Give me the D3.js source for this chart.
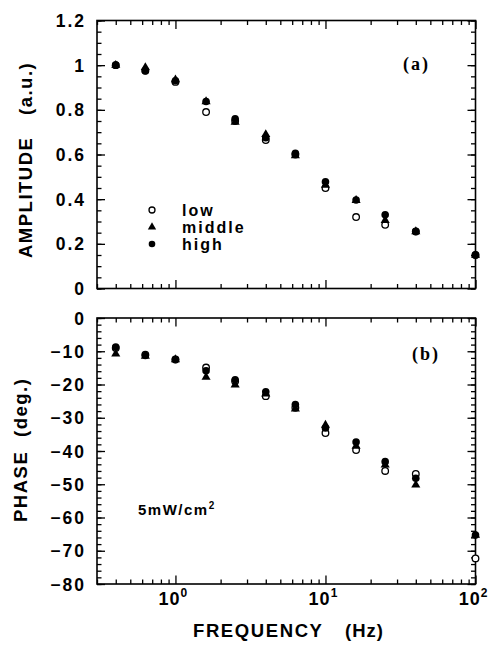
<!DOCTYPE html>
<html>
<head>
<meta charset="utf-8">
<script src="https://cdn.jsdelivr.net/npm/d3@7"></script>
<style>
  body { margin: 0; background: #fff; }
  text { font-family: "Liberation Sans", Arial, sans-serif; font-weight: bold; fill: #000; }
</style>
</head>
<body>
<div id="chart"></div>
<script>
// frequencies (Hz)
var freq = [0.4, 0.63, 1, 1.6, 2.5, 4, 6.3, 10, 16, 25, 40, 100];

// amplitude (a.u.)
var ampLow  = [1.0, 0.975, 0.925, 0.79, 0.75, 0.665, 0.6, 0.45, 0.32, 0.285, 0.255, 0.15];
var ampMid  = [1.0, 0.99, 0.935, 0.837, 0.745, 0.69, 0.595, 0.463, 0.395, 0.305, 0.255, 0.15];
var ampHigh = [1.0, 0.975, 0.93, 0.837, 0.76, 0.675, 0.605, 0.478, 0.396, 0.33, 0.255, 0.15];

// phase (deg.)
var phLow  = [-9, -11, -12.5, -14.9, -19, -23.5, -27, -34.6, -39.7, -46, -46.9, -72.3];
var phMid  = [-10.8, -11.5, -12.5, -17.8, -20.1, -22.8, -27.3, -32.2, -38.5, -44.2, -50.2, -65.3];
var phHigh = [-8.7, -11.3, -12.5, -15.9, -18.6, -22.2, -26, -33.1, -37.3, -43.2, -48.2, -65.3];

var ampTicks = [0, 0.2, 0.4, 0.6, 0.8, 1, 1.2];
var phTicks = [0, -10, -20, -30, -40, -50, -60, -70, -80];
var decades = [1, 10, 100];
var decadeExp = ["0", "1", "2"];
var legendNames = ["low", "middle", "high"];

var svgWidth = 492, svgHeight = 647;
var svg = d3.select("#chart").append("svg")
  .attr("width", svgWidth)
  .attr("height", svgHeight);

var left = 97, right = 475.5;
var x = d3.scaleLog().domain([0.3, 100]).range([left, right]);

var minorX = [];
[0.1, 1, 10].forEach(function(b) {
  for (var k = 2; k <= 9; k++) {
    var v = b * k;
    if (v >= 0.3 && v < 100) minorX.push(v);
  }
});

function minorSteps(lo, hi, step) {
  var out = [];
  var n = Math.round((hi - lo) / step);
  for (var i = 0; i <= n; i++) out.push(+(lo + i * step).toFixed(4));
  return out;
}

function drawPanel(top, bottom, y, majorY, minorY, yLabelFmt) {
  var g = svg.append("g");
  var w = right - left;

  // x ticks, bottom and top, pointing inward
  [[d3.axisBottom, bottom], [d3.axisTop, top]].forEach(function(a) {
    g.append("g").attr("transform", `translate(0,${a[1]})`)
      .call(a[0](x).tickValues(minorX).tickSize(-4.5).tickFormat(""));
    g.append("g").attr("transform", `translate(0,${a[1]})`)
      .call(a[0](x).tickValues(decades).tickSize(-8.5).tickFormat(""));
  });

  // y ticks, left and right
  [[d3.axisLeft, left], [d3.axisRight, right]].forEach(function(a) {
    g.append("g").attr("transform", `translate(${a[1]},0)`)
      .call(a[0](y).tickValues(minorY).tickSize(-4.5).tickFormat(""));
    g.append("g").attr("transform", `translate(${a[1]},0)`)
      .call(a[0](y).tickValues(majorY).tickSize(-8).tickFormat(""));
  });

  g.selectAll(".domain").remove();
  g.selectAll(".tick line").attr("stroke", "#000").attr("stroke-width", 1.3);

  g.append("rect")
    .attr("x", left).attr("y", top)
    .attr("width", w).attr("height", bottom - top)
    .attr("fill", "none").attr("stroke", "#000").attr("stroke-width", 1.6);

  // y tick labels
  g.selectAll(".ylab").data(majorY).enter().append("text")
    .attr("x", left - 11)
    .attr("y", d => y(d) + 6.5)
    .attr("text-anchor", "end")
    .style("font-size", "17.5px")
    .style("letter-spacing", "2px")
    .text(yLabelFmt);
  return g;
}

function drawMarkers(g, y, low, mid, high) {
  var tri = d3.symbol().type(d3.symbolTriangle).size(36);
  g.selectAll(".lo").data(freq).enter().append("circle")
    .attr("cx", d => x(d)).attr("cy", (d, i) => y(low[i])).attr("r", 3.3)
    .attr("fill", "#fff").attr("stroke", "#000").attr("stroke-width", 1.3);
  g.selectAll(".mi").data(freq).enter().append("path")
    .attr("d", tri)
    .attr("transform", (d, i) => `translate(${x(d)},${y(mid[i])})`)
    .attr("fill", "#000");
  g.selectAll(".hi").data(freq).enter().append("circle")
    .attr("cx", d => x(d)).attr("cy", (d, i) => y(high[i])).attr("r", 3.8)
    .attr("fill", "#000");
}

// ----- panel (a): amplitude
var yAmp = d3.scaleLinear().domain([0, 1.2]).range([288.5, 20.5]);
var gA = drawPanel(20.5, 288.5, yAmp, ampTicks, minorSteps(0, 1.2, 0.05), d => d3.format("")(d));
drawMarkers(gA, yAmp, ampLow, ampMid, ampHigh);

// ----- panel (b): phase
var yPh = d3.scaleLinear().domain([-80, 0]).range([584, 318]);
var gB = drawPanel(318, 584, yPh, phTicks, minorSteps(-80, 0, 2), d => d3.format("")(d));
drawMarkers(gB, yPh, phLow, phMid, phHigh);

// x tick labels (10^n)
var xl = svg.selectAll(".xlab").data(decades).enter().append("text")
  .attr("x", d => x(d) - 2)
  .attr("y", 605)
  .attr("text-anchor", "middle")
  .style("font-size", "18px")
  .style("letter-spacing", "1px");
xl.append("tspan").text("10");
xl.append("tspan").attr("dy", -8).style("font-size", "12px").text((d, i) => decadeExp[i]);

// axis titles
svg.append("text").attr("transform", "translate(32,258) rotate(-90)")
  .style("font-size", "18.5px").style("letter-spacing", "1.5px").text("AMPLITUDE");
svg.append("text").attr("transform", "translate(32,115) rotate(-90)")
  .style("font-size", "18.5px").style("letter-spacing", "1.5px").text("(a.u.)");
svg.append("text").attr("transform", "translate(27,522) rotate(-90)")
  .style("font-size", "18.5px").style("letter-spacing", "1.5px").text("PHASE");
svg.append("text").attr("transform", "translate(27,437) rotate(-90)")
  .style("font-size", "18.5px").style("letter-spacing", "1.5px").text("(deg.)");
svg.append("text").attr("x", 193).attr("y", 637)
  .style("font-size", "18.5px").style("letter-spacing", "1.6px").text("FREQUENCY");
svg.append("text").attr("x", 345).attr("y", 637)
  .style("font-size", "18.5px").style("letter-spacing", "1px").text("(Hz)");

// panel tags
svg.append("text").attr("x", 403).attr("y", 70)
  .style("font-family", "'Liberation Serif', 'Times New Roman', serif")
  .style("font-size", "18px").style("letter-spacing", "2px").text("(a)");
svg.append("text").attr("x", 412).attr("y", 360)
  .style("font-family", "'Liberation Serif', 'Times New Roman', serif")
  .style("font-size", "18px").style("letter-spacing", "2px").text("(b)");

// legend
var legY = [210, 227, 244];
var leg = svg.append("g");
leg.append("circle").attr("cx", 152).attr("cy", legY[0]).attr("r", 3)
  .attr("fill", "#fff").attr("stroke", "#000").attr("stroke-width", 1.3);
leg.append("path").attr("d", d3.symbol().type(d3.symbolTriangle).size(30))
  .attr("transform", `translate(152,${legY[1]})`).attr("fill", "#000");
leg.append("circle").attr("cx", 152).attr("cy", legY[2]).attr("r", 3.3).attr("fill", "#000");
leg.selectAll(".lt").data(legendNames).enter().append("text")
  .attr("x", 182).attr("y", (d, i) => legY[i] + 5.5)
  .style("font-size", "16px").style("letter-spacing", "2px")
  .text(d => d);

// intensity note
var note = svg.append("text").attr("x", 138).attr("y", 515)
  .style("font-size", "15px").style("letter-spacing", "1.5px");
note.append("tspan").text("5mW/cm");
note.append("tspan").attr("dy", -6).style("font-size", "10px").text("2");
</script>
</body>
</html>
